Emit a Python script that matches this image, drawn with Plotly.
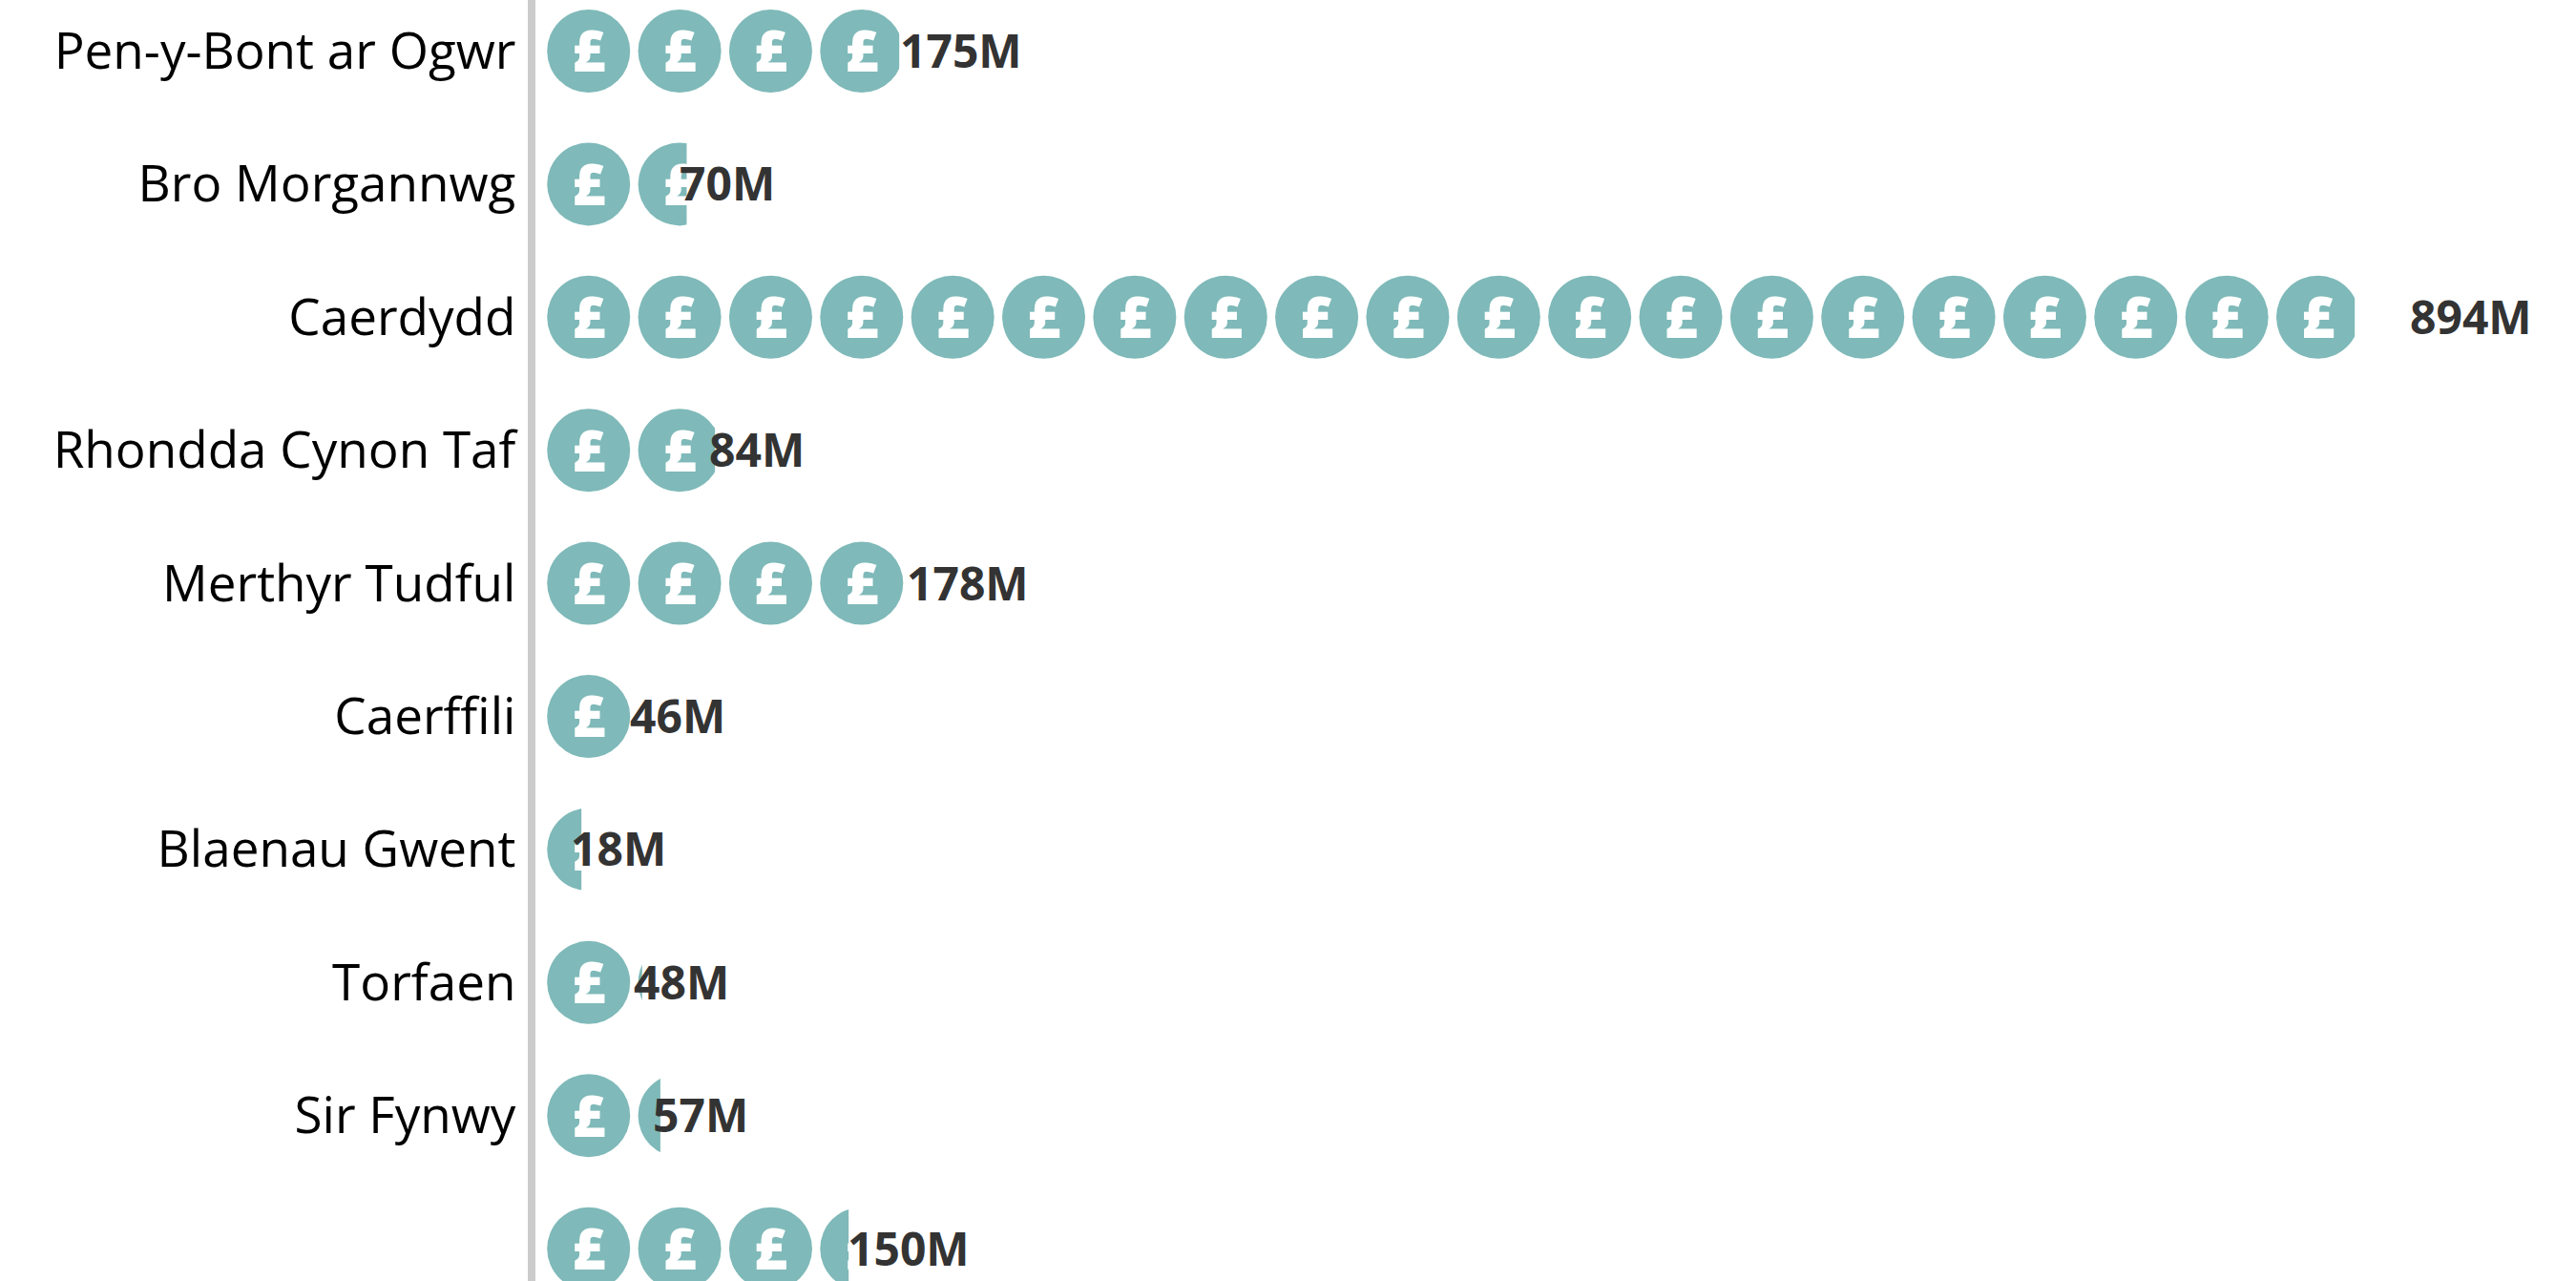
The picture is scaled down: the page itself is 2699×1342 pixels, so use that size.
import math
import plotly.graph_objects as go

categories = ["Pen-y-Bont ar Ogwr", "Bro Morgannwg", "Caerdydd", "Rhondda Cynon Taf", "Merthyr Tudful",
              "Caerffili", "Blaenau Gwent", "Torfaen", "Sir Fynwy", "Casnewydd"]
values = [175, 70, 894, 84, 178, 46, 18, 48, 57, 150]

UNIT = 44.7            # £M represented by one icon
PITCH = 43.34          # axis units between icons
FIRST = 25.6           # axis position of the first icon centre
TEAL = "#7fb9b9"

xs, ys = [], []
for i, v in enumerate(values):
    for k in range(math.ceil(v / UNIT)):
        xs.append(FIRST + PITCH * k)
        ys.append(i)

fig = go.Figure(go.Scatter(
    x=xs, y=ys, mode="markers",
    marker=dict(symbol="circle", size=87, color=TEAL, line=dict(width=0)),
    hoverinfo="skip", showlegend=False,
))
fig.add_trace(go.Scatter(
    x=xs, y=[y + 0.05 for y in ys], mode="text",
    text=["£"] * len(xs), textposition="middle center",
    textfont=dict(family="Open Sans", size=60, color="white", weight=800),
    hoverinfo="skip", showlegend=False,
))

# each row's icons are cut off where its value ends
for i, v in enumerate(values):
    clip = 4.82 + 0.964 * v
    fig.add_shape(type="rect", layer="above", x0=clip, x1=clip + PITCH * 1.2, y0=i - 0.45, y1=i + 0.45,
                  xref="x", yref="y", fillcolor="white", line=dict(width=0))
    fig.add_annotation(x=v, y=i, text=f"{v}M", showarrow=False, xanchor="left", xshift=-3, yshift=1,
                       align="left", borderpad=0,
                       font=dict(family="Open Sans", size=48, color="#333333", weight=700))

fig.update_layout(
    width=2699, height=1342, margin=dict(l=561, r=0, t=0, b=0),
    paper_bgcolor="white", plot_bgcolor="white", font=dict(family="Open Sans"),
    xaxis=dict(range=[0.27, 972], visible=False, showgrid=False, zeroline=False),
    yaxis=dict(tickmode="array", tickvals=list(range(len(categories))), ticktext=categories,
               range=[9.243, -0.3838], showgrid=False, zeroline=False,
               showline=True, linecolor="#cccccc", linewidth=8,
               ticks="outside", ticklen=2, tickcolor="rgba(0,0,0,0)",
               tickfont=dict(family="Open Sans", size=53, color="black")),
)
fig.write_html("out.html", config=dict(displayModeBar=False), post_script="document.body.style.margin='0';")
